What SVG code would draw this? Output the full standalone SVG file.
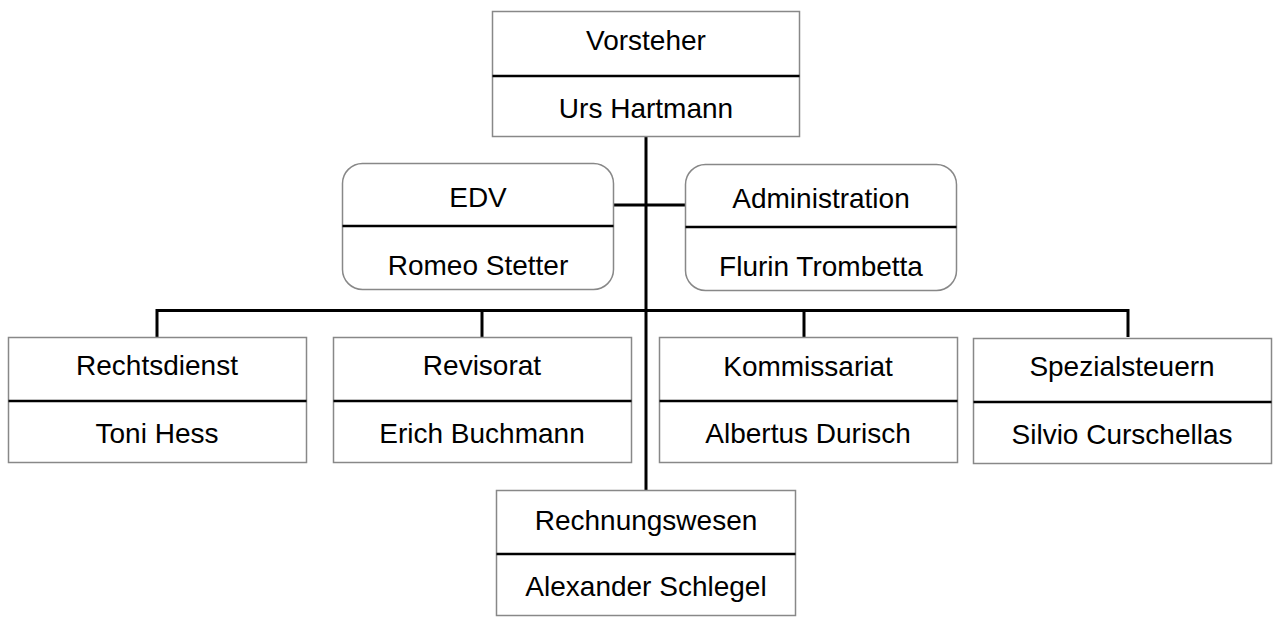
<svg xmlns="http://www.w3.org/2000/svg" width="1280" height="631" viewBox="0 0 1280 631">
<style>
.box{fill:#fff;stroke:#888;stroke-width:1.5}
.div{stroke:#000;stroke-width:2.5}
.con{fill:none;stroke:#000;stroke-width:3}
text{font-family:"Liberation Sans",Arial,sans-serif;font-size:28px;fill:#000;text-anchor:middle}
</style>
<rect width="1280" height="631" fill="#fff"/>
<g id="connectors">
<line class="con" x1="646" y1="136" x2="646" y2="490"/>
<line class="con" x1="613" y1="205" x2="685" y2="205"/>
<polyline class="con" points="157,337 157,310.5 1128,310.5 1128,337"/>
<line class="con" x1="482" y1="310" x2="482" y2="337"/>
<line class="con" x1="804" y1="310" x2="804" y2="337"/>
</g>
<g id="vorsteher">
<rect class="box" x="492.5" y="11.5" width="307" height="125"/>
<line class="div" x1="492.5" y1="76" x2="799.5" y2="76"/>
<text x="646" y="50">Vorsteher</text>
<text x="646" y="118">Urs Hartmann</text>
</g>
<g id="edv">
<rect class="box" x="342.5" y="163.5" width="271" height="126" rx="20"/>
<line class="div" x1="342.5" y1="226" x2="613.5" y2="226"/>
<text x="478" y="207">EDV</text>
<text x="478" y="275">Romeo Stetter</text>
</g>
<g id="administration">
<rect class="box" x="685.5" y="164.5" width="271" height="126" rx="20"/>
<line class="div" x1="685.5" y1="227" x2="956.5" y2="227"/>
<text x="821" y="208">Administration</text>
<text x="821" y="276">Flurin Trombetta</text>
</g>
<g id="rechtsdienst">
<rect class="box" x="8.5" y="337.5" width="298" height="125"/>
<line class="div" x1="8.5" y1="401" x2="306.5" y2="401"/>
<text x="157" y="375">Rechtsdienst</text>
<text x="157" y="443">Toni Hess</text>
</g>
<g id="revisorat">
<rect class="box" x="333.5" y="337.5" width="298" height="125"/>
<line class="div" x1="333.5" y1="401" x2="631.5" y2="401"/>
<text x="482" y="375">Revisorat</text>
<text x="482" y="443">Erich Buchmann</text>
</g>
<g id="kommissariat">
<rect class="box" x="659.5" y="337.5" width="298" height="125"/>
<line class="div" x1="659.5" y1="401" x2="957.5" y2="401"/>
<text x="808" y="376">Kommissariat</text>
<text x="808" y="443">Albertus Durisch</text>
</g>
<g id="spezialsteuern">
<rect class="box" x="973.5" y="338.5" width="298" height="125"/>
<line class="div" x1="973.5" y1="402" x2="1271.5" y2="402"/>
<text x="1122" y="376">Spezialsteuern</text>
<text x="1122" y="444">Silvio Curschellas</text>
</g>
<g id="rechnungswesen">
<rect class="box" x="496.5" y="490.5" width="299" height="125"/>
<line class="div" x1="496.5" y1="554" x2="795.5" y2="554"/>
<text x="646" y="530">Rechnungswesen</text>
<text x="646" y="596">Alexander Schlegel</text>
</g>
</svg>
